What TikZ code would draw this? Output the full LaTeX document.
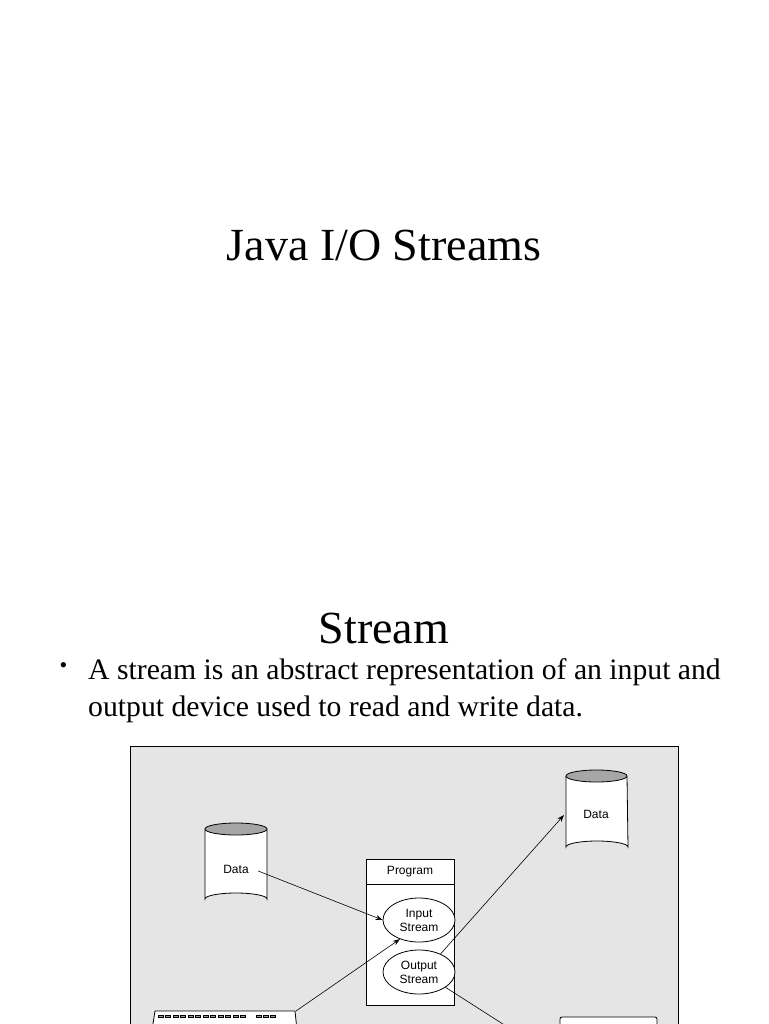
\documentclass[tikz,border=0pt]{standalone}
\usepackage{fontspec}
\setmainfont{Liberation Serif}
\newfontfamily\diagfont{Liberation Sans}
\usetikzlibrary{shapes.geometric,arrows.meta}
\begin{document}
\begin{tikzpicture}[x=1pt,y=-1pt,
  lbl/.style={font=\diagfont\fontsize{12}{14}\selectfont,align=center},
  stroke/.style={draw=black,line width=0.8pt},
  conn/.style={draw=black,line width=0.6pt,-{Stealth[length=7pt,width=5pt]}},
  ell/.style={ellipse,stroke,fill=white,minimum width=72pt,minimum height=44pt,inner sep=0pt,lbl}]
\useasboundingbox (0,0) rectangle (768,1024);
\fill[white] (0,0) rectangle (768,1024);
\node[font=\fontsize{46}{50}\selectfont] (t1) at (384,245) {Java I/O Streams};
\node[font=\fontsize{46}{50}\selectfont] (t2) at (384,628) {Stream};
\node[anchor=west,font=\fontsize{22}{37}\selectfont] (bul) at (56,668) {•};
\node[anchor=north west,align=left,font=\fontsize{29.7}{37}\selectfont,inner sep=0pt] (btxt) at (88,658) {A stream is an abstract representation of an input and\\output device used to read and write data.};
% frame
\draw[line width=0.8pt,fill=black!10] (130,746) rectangle (678,1030);
% left cylinder
\draw[stroke,fill=white] (205,829) -- (205,899) arc[start angle=180,end angle=360,x radius=31,y radius=6] -- (267,829);
\draw[stroke,fill=black!35] (236,829) ellipse[x radius=31,y radius=6];
\node[lbl] (d1) at (236,869) {Data};
% right cylinder
\draw[stroke,fill=white] (566,776) -- (566,847) arc[start angle=180,end angle=360,x radius=31,y radius=6] -- (627,776);
\draw[stroke,fill=black!35] (596.5,776) ellipse[x radius=30.5,y radius=6];
\node[lbl] (d2) at (596,814) {Data};
% program
\draw[stroke,fill=white] (366,859) rectangle (454,1005);
\draw[stroke] (366,884) -- (454,884);
\node[lbl] (prog) at (410,872) {Program};
\node[ell] (in) at (419,920) {Input\\Stream};
\node[ell] (out) at (419,972) {Output\\Stream};
% keyboard
\draw[stroke,fill=white] (155,1011) -- (295,1011) -- (297,1030) -- (152,1030) -- cycle;
\foreach \i in {0,...,11} \draw[line width=0.5pt,fill=black!40] (158+\i*7.5,1015) rectangle +(5,2.5);
\foreach \i in {0,...,2} \draw[line width=0.5pt,fill=black!40] (256+\i*7,1015) rectangle +(5,2.5);
\coordinate (kb) at (296,1011);
% monitor
\draw[stroke,fill=white,rounded corners=2pt] (560,1017) rectangle (657,1030);
\coordinate (mon) at (506,1026);
% connectors
\draw[conn] (d1.east) ++(6,2) -- (in.west);
\draw[conn] (kb) -- (in.225);
\draw[conn] (out.40) -- (564,815);
\draw[line width=0.6pt] (out.-30) -- (mon);
\end{tikzpicture}
\end{document}
